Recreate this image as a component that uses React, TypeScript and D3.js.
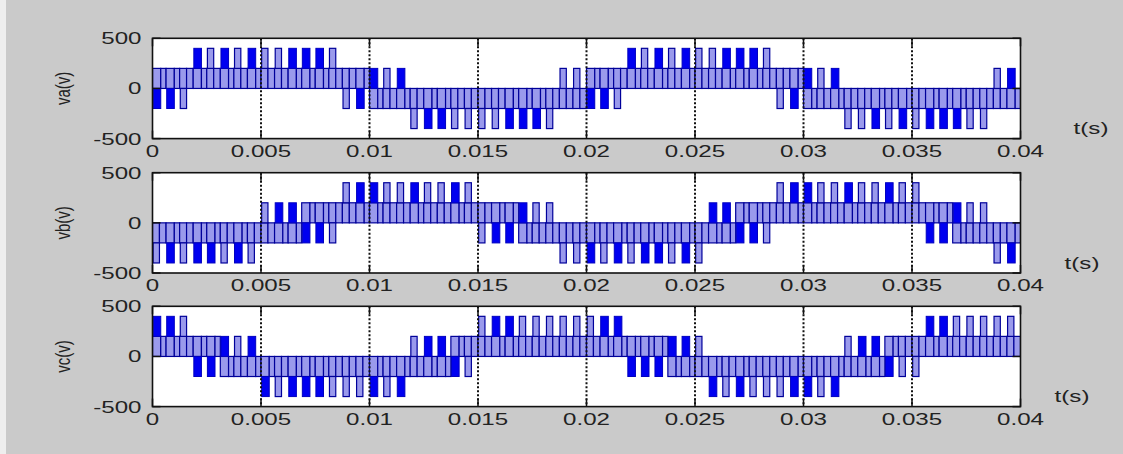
import React from 'react';
import * as d3 from 'd3';

const WIDTH = 1123;
const HEIGHT = 454;

const xTicks = [0, 0.005, 0.01, 0.015, 0.02, 0.025, 0.03, 0.035, 0.04];
const xTickLabels = ['0', '0.005', '0.01', '0.015', '0.02', '0.025', '0.03', '0.035', '0.04'];
const yTicks = [500, 0, -500];
const yTickLabels = ['500', '0', '-500'];
const panelLabels = ['va(v)', 'vb(v)', 'vc(v)'];
const timeLabel = 't(s)';

const carrierPeriod = 0.000625;
const pulseOffset = 0.00003;
const solidWidth = 0.00035;
const hatchWidth = 0.00029;
const stepVolts = 200;

// band the waveform keeps switching in: [first carrier cell, lower edge in V]
const vaBaseRuns = [[0, 0], [16, -200], [32, 0], [48, -200]];
const vbBaseRuns = [[0, -200], [11, 0], [27, -200], [43, 0], [59, -200]];
const vcBaseRuns = [[0, 0], [5, -200], [22, 0], [38, -200], [54, 0]];

// one pulse per carrier cell: U/u above the band, D/d below it, capitals are the dense (solid) ones
const vaPulses = ('DDdUuUuUuuUUUudD' + 'UuUdDDddddDDDduu' + 'DDdUuUuUuuUUUudD' + 'UuUddDdDdDDDdduU').split('');
const vbPulses = ('dDdDDdDduUUDDduU' + 'UuuUuuUudDDUuudd' + 'DdDdDDdDdUUDDduU' + 'UuuUuuUuuDDUuudD').split('');
const vcPulses = ('UUuDDUuUDdDDDddd' + 'DdDuUUDduUUuuuuu' + 'uUUDDDUUuDdDdddD' + 'DdDuUUDddUUuuuuu').split('');

const panelBase = [vaBaseRuns, vbBaseRuns, vcBaseRuns];
const panelPulses = [vaPulses, vbPulses, vcPulses];

// layout
const plotLeft = 152.5;
const plotRight = 1020.5;
const panelTops = [38.3, 172.7, 306.3];
const panelHeight = 100.3;
const timeLabelX = [1091, 1082, 1072];
const textScale = 1.42;
const font = "'Liberation Sans', Arial, Helvetica, sans-serif";

const hatchStyle = { fill: '#9a9aec', stroke: '#00009a', strokeWidth: 1.2 };
const solidStyle = { fill: '#0000f0', stroke: '#0000c0', strokeWidth: 1 };

const Panel = ({ idx }) => {
  const top = panelTops[idx];
  const bottom = top + panelHeight;
  const pulses = panelPulses[idx];
  const runs = panelBase[idx];

  const xScale = d3.scaleLinear().domain([0, 0.04]).range([plotLeft, plotRight]);
  const yScale = d3.scaleLinear().domain([-500, 500]).range([bottom, top]);

  const baseLevel = (k) => {
    let lvl = runs[0][1];
    runs.forEach(([start, v]) => { if (k >= start) lvl = v; });
    return lvl;
  };

  const box = (t0, t1, v0, v1) => ({
    x: xScale(t0),
    y: yScale(v1),
    width: Math.max(0.5, xScale(t1) - xScale(t0)),
    height: yScale(v0) - yScale(v1),
  });

  const bandRects = [];
  const pulseRects = [];
  pulses.forEach((code, k) => {
    const solid = code === code.toUpperCase();
    const t0 = k * carrierPeriod;
    const t1 = t0 + carrierPeriod;
    const ta = t0 + pulseOffset;
    const tb = ta + (solid ? solidWidth : hatchWidth);
    const lo = baseLevel(k);
    const hi = lo + stepVolts;
    bandRects.push({ key: `b${k}a`, ...box(t0, tb, lo, hi) });
    bandRects.push({ key: `b${k}b`, ...box(tb, t1, lo, hi) });
    const up = code.toUpperCase() === 'U';
    const r = up ? box(ta, tb, hi, hi + stepVolts) : box(ta, tb, lo - stepVolts, lo);
    pulseRects.push({ key: `p${k}`, solid, ...r });
  });

  const clipId = `clip-${idx}`;
  const tickLen = 8;

  return (
    <g>
      <rect x={plotLeft} y={top} width={plotRight - plotLeft} height={panelHeight} fill="#ffffff" />
      <defs>
        <clipPath id={clipId}>
          <rect x={plotLeft} y={top} width={plotRight - plotLeft} height={panelHeight} />
        </clipPath>
      </defs>
      <g clipPath={`url(#${clipId})`}>
        {bandRects.map(({ key, ...r }) => <rect key={key} {...r} {...hatchStyle} />)}
        {pulseRects.map(({ key, solid, ...r }) => <rect key={key} {...r} {...(solid ? solidStyle : hatchStyle)} />)}
        {xTicks.slice(1, -1).map((t) => (
          <line key={`g${t}`} x1={xScale(t)} x2={xScale(t)} y1={top} y2={bottom}
            stroke="#111" strokeWidth={2} strokeDasharray="2,2" />
        ))}
      </g>
      {xTicks.map((t) => (
        <g key={`xt${t}`}>
          <line x1={xScale(t)} x2={xScale(t)} y1={bottom} y2={bottom - tickLen} stroke="#111" strokeWidth={1.5} />
          <line x1={xScale(t)} x2={xScale(t)} y1={top} y2={top + tickLen} stroke="#111" strokeWidth={1.5} />
        </g>
      ))}
      {yTicks.map((v) => (
        <g key={`yt${v}`}>
          <line x1={plotLeft} x2={plotLeft + tickLen} y1={yScale(v)} y2={yScale(v)} stroke="#111" strokeWidth={1.5} />
          <line x1={plotRight} x2={plotRight - tickLen} y1={yScale(v)} y2={yScale(v)} stroke="#111" strokeWidth={1.5} />
        </g>
      ))}
      <rect x={plotLeft} y={top} width={plotRight - plotLeft} height={panelHeight}
        fill="none" stroke="#111" strokeWidth={1.6} />
      {xTicks.map((t, i) => (
        <text key={`xl${t}`} transform={`translate(${xScale(t)},${bottom + 18}) scale(${textScale},1)`}
          textAnchor="middle" fontSize={17} fontFamily={font} fill="#222">{xTickLabels[i]}</text>
      ))}
      {yTicks.map((v, i) => (
        <text key={`yl${v}`} transform={`translate(${plotLeft - 11},${yScale(v) + 6}) scale(${textScale},1)`}
          textAnchor="end" fontSize={17} fontFamily={font} fill="#222">{yTickLabels[i]}</text>
      ))}
      <text transform={`translate(${plotLeft - 89},${(top + bottom) / 2}) scale(1.3,1) rotate(-90)`}
        textAnchor="middle" dy="0.35em" fontSize={15} fontFamily={font} fill="#222">{panelLabels[idx]}</text>
      <text transform={`translate(${timeLabelX[idx]},${bottom - 4.5}) scale(${textScale},1)`}
        textAnchor="middle" fontSize={17} fontFamily={font} fill="#222">{timeLabel}</text>
    </g>
  );
};

const App = () => (
  <svg width={WIDTH} height={HEIGHT} style={{ position: 'absolute', left: 0, top: 0, display: 'block' }}>
    <rect x={0} y={0} width={WIDTH} height={HEIGHT} fill="#cacaca" />
    <rect x={0} y={0} width={6} height={HEIGHT} fill="#eeeeee" />
    {panelTops.map((_, i) => <Panel key={i} idx={i} />)}
  </svg>
);

export default App;
